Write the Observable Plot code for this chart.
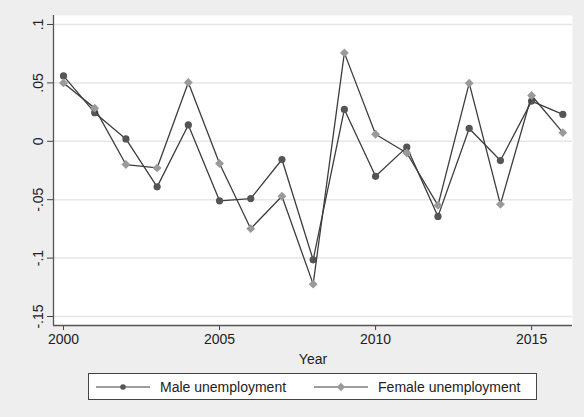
<!DOCTYPE html>
<html>
<head>
<meta charset="utf-8">
<script src="https://cdn.jsdelivr.net/npm/d3@7"></script>
<script src="https://cdn.jsdelivr.net/npm/@observablehq/plot@0.6"></script>
<style>
  html, body { margin: 0; padding: 0; background: #eeeeee; }
  body { width: 584px; height: 417px; position: relative; overflow: hidden; font-family: "Liberation Sans", Arial, sans-serif; }
  #chart { position: absolute; left: 0; top: 0; }
  #legend { position: absolute; left: 88px; top: 373px; width: 447px; height: 25px; border: 1px solid #444; background: #fff;
            display: flex; align-items: center; font-size: 14px; color: #222; }
  .item { display: flex; align-items: center; }
  .item svg { display: block; }
</style>
</head>
<body>
<div id="chart"></div>
<div id="legend"></div>
<script>
const years = [2000,2001,2002,2003,2004,2005,2006,2007,2008,2009,2010,2011,2012,2013,2014,2015,2016];
const male = [0.056,0.0245,0.002,-0.039,0.014,-0.051,-0.049,-0.0156,-0.1015,0.0273,-0.030,-0.005,-0.0643,0.011,-0.0165,0.0344,0.023];
const female = [0.050,0.0284,-0.0199,-0.0228,0.0503,-0.019,-0.0748,-0.047,-0.1223,0.0757,0.006,-0.010,-0.0549,0.0498,-0.054,0.0392,0.0074];
const seriesNames = ["Male unemployment", "Female unemployment"];
const yTicks = [0.1, 0.05, 0, -0.05, -0.1, -0.15];
const yTickLabels = [".1", ".05", "0", "-.05", "-.1", "-.15"];
const xTicks = [2000, 2005, 2010, 2015];
const xDomain = [1999.68, 2016.31];
const yDomain = [-0.1577, 0.1077];

const maleData = years.map((y, i) => ({year: y, value: male[i]}));
const femaleData = years.map((y, i) => ({year: y, value: female[i]}));

const lineColor = "#3d3d3d";
const maleMarker = "#555555";
const femaleMarker = "#9a9a9a";

const chart = Plot.plot({
  width: 584,
  height: 368,
  marginLeft: 53,
  marginRight: 12,
  marginTop: 15,
  marginBottom: 43,
  style: {background: "transparent", fontFamily: "'Liberation Sans', Arial, sans-serif", fontSize: "14px", color: "#222"},
  x: {domain: xDomain},
  y: {domain: yDomain},
  marks: [
    Plot.frame({fill: "white", stroke: null}),
    Plot.gridY(yTicks, {stroke: "#e6e6e6", strokeOpacity: 1, strokeWidth: 1.5}),
    Plot.axisY(yTicks, {
      tickSize: 6, tickPadding: 5, tickRotate: -90,
      textAnchor: "middle", lineAnchor: "bottom",
      tickFormat: d => yTickLabels[yTicks.indexOf(d)],
      label: null, stroke: "#444", fill: "#222"
    }),
    Plot.axisX(xTicks, {
      tickSize: 5, tickPadding: 4, tickFormat: d => String(d),
      label: "Year", labelAnchor: "center", labelArrow: "none", labelOffset: 38,
      stroke: "#444", fill: "#222"
    }),
    Plot.ruleX([xDomain[0]], {stroke: "#555", strokeWidth: 1.3}),
    Plot.ruleY([yDomain[0]], {stroke: "#555", strokeWidth: 1.3}),
    Plot.line(maleData, {x: "year", y: "value", stroke: lineColor, strokeWidth: 1.3}),
    Plot.dot(maleData, {x: "year", y: "value", r: 3.6, fill: maleMarker, symbol: "circle"}),
    Plot.line(femaleData, {x: "year", y: "value", stroke: lineColor, strokeWidth: 1.3}),
    Plot.dot(femaleData, {x: "year", y: "value", r: 4, fill: femaleMarker, symbol: "diamond2"})
  ]
});
document.getElementById("chart").appendChild(chart);

// Legend
const legend = document.getElementById("legend");
const items = [
  {name: seriesNames[0], symbol: "circle", fill: maleMarker, r: 2.8},
  {name: seriesNames[1], symbol: "diamond", fill: femaleMarker, r: 3.3}
];
items.forEach((it, idx) => {
  const div = document.createElement("div");
  div.className = "item";
  div.style.marginLeft = idx === 0 ? "6px" : "27px";
  const ns = "http://www.w3.org/2000/svg";
  const svg = document.createElementNS(ns, "svg");
  svg.setAttribute("width", 56); svg.setAttribute("height", 12);
  const line = document.createElementNS(ns, "line");
  line.setAttribute("x1", 1); line.setAttribute("x2", 55);
  line.setAttribute("y1", 6); line.setAttribute("y2", 6);
  line.setAttribute("stroke", lineColor); line.setAttribute("stroke-width", 1.2);
  svg.appendChild(line);
  const sym = document.createElementNS(ns, "path");
  const sz = it.symbol === "circle" ? Math.PI * it.r * it.r : 4 * it.r * it.r;
  sym.setAttribute("d", d3.symbol(it.symbol === "circle" ? d3.symbolCircle : d3.symbolDiamond2, sz)());
  sym.setAttribute("transform", "translate(28,6)");
  sym.setAttribute("fill", it.fill);
  svg.appendChild(sym);
  div.appendChild(svg);
  const span = document.createElement("span");
  span.textContent = it.name;
  span.style.marginLeft = "9px";
  div.appendChild(span);
  legend.appendChild(div);
});
</script>
</body>
</html>
